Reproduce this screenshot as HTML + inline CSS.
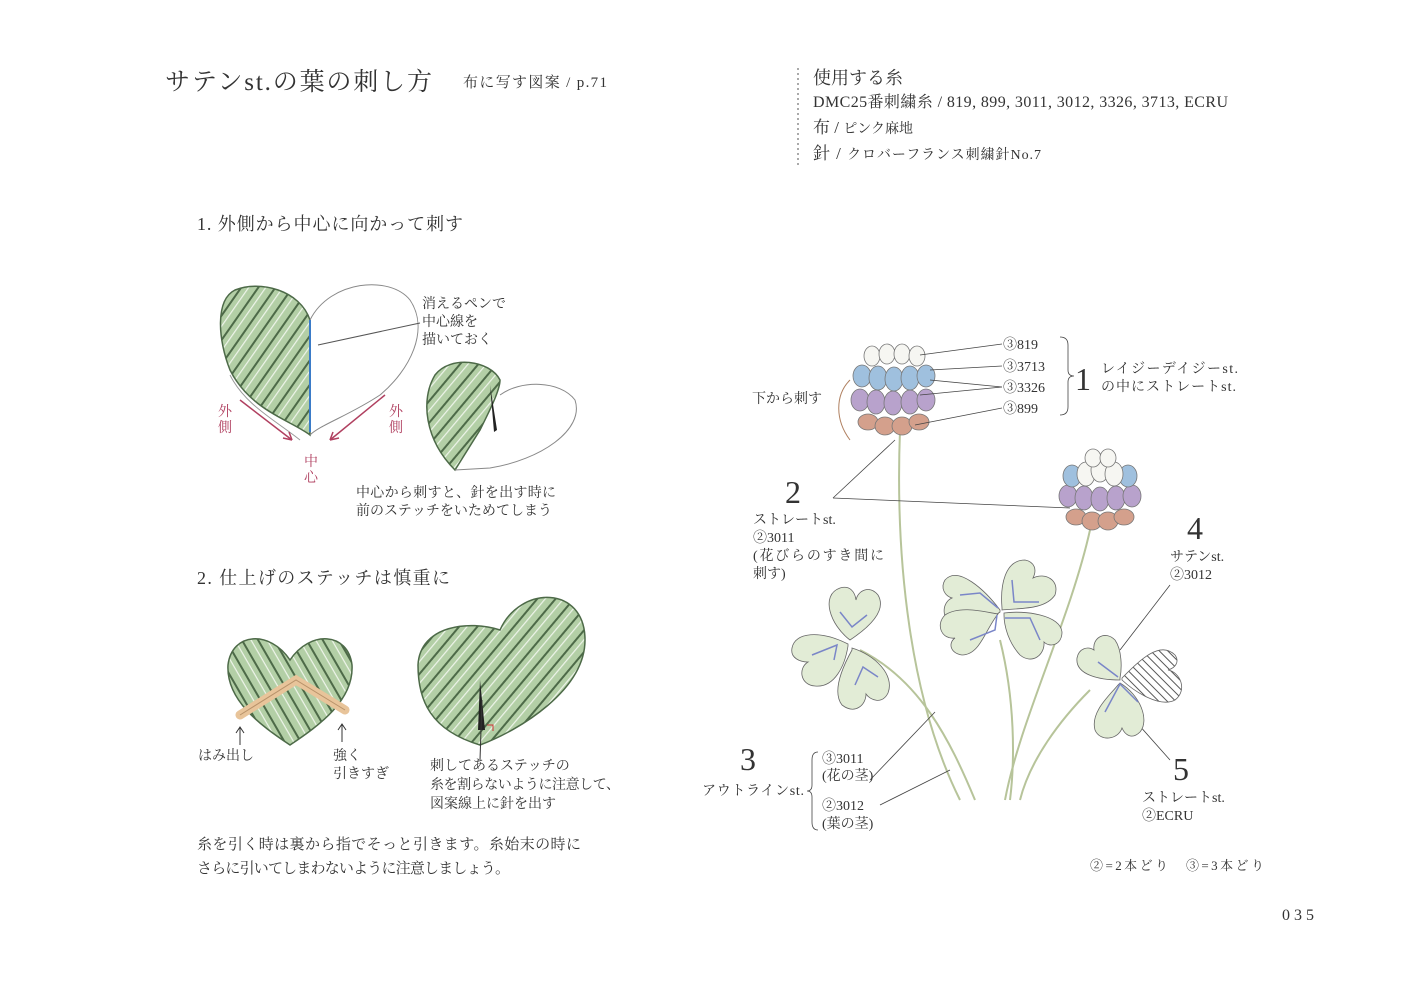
<!DOCTYPE html>
<html><head><meta charset="utf-8"><style>
html,body{margin:0;padding:0;background:#fff}
svg{display:block}
text{font-family:"Liberation Serif","Noto Serif CJK SC",serif;fill:#333}
</style></head><body>
<svg width="1406" height="991" viewBox="0 0 1406 991" xmlns="http://www.w3.org/2000/svg">
<defs>
<pattern id="st" width="14" height="14" patternUnits="userSpaceOnUse" patternTransform="rotate(-55)">
<rect width="14" height="14" fill="#b3cfa6"/><rect y="11.5" width="14" height="2" fill="#4d6a48"/><rect y="4" width="14" height="1.2" fill="#eef4ea"/>
</pattern>
<pattern id="st2" width="14" height="14" patternUnits="userSpaceOnUse" patternTransform="rotate(-50)">
<rect width="14" height="14" fill="#b3cfa6"/><rect y="11.5" width="14" height="2" fill="#4d6a48"/><rect y="4" width="14" height="1.2" fill="#eef4ea"/>
</pattern>
<pattern id="st3" width="14" height="14" patternUnits="userSpaceOnUse" patternTransform="rotate(60)">
<rect width="14" height="14" fill="#b3cfa6"/><rect y="11.5" width="14" height="2" fill="#4d6a48"/><rect y="4" width="14" height="1.2" fill="#eef4ea"/>
</pattern>
<pattern id="hatch" width="6" height="6" patternUnits="userSpaceOnUse" patternTransform="rotate(45)">
<rect width="6" height="6" fill="#fff"/><rect width="6" height="1" fill="#555"/>
</pattern>
</defs>

<!-- titles -->
<text x="165" y="90" font-size="25" textLength="267">サテンst.の葉の刺し方</text>
<text x="463" y="87" font-size="15" textLength="144">布に写す図案 / p.71</text>
<line x1="798" y1="68" x2="798" y2="165" stroke="#aaa" stroke-width="2" stroke-dasharray="2,3"/>
<text x="813" y="84" font-size="18">使用する糸</text>
<text x="813" y="107" font-size="16" textLength="415">DMC25番刺繍糸 / 819, 899, 3011, 3012, 3326, 3713, ECRU</text>
<text x="813" y="133" font-size="17">布 / <tspan font-size="14">ピンク麻地</tspan></text>
<text x="813" y="159" font-size="17" textLength="228">針 / <tspan font-size="14">クロバーフランス刺繍針No.7</tspan></text>

<text x="197" y="230" font-size="18" textLength="266">1. 外側から中心に向かって刺す</text>

<!-- heart 1 -->
<path d="M310 320 C300 290 260 280 235 290 C215 300 218 340 230 370 C250 410 290 420 310 435 Z" fill="url(#st)" stroke="#4d6a48" stroke-width="1.5"/>
<path d="M310 320 C330 280 390 275 410 300 C430 330 410 370 380 395 C350 415 320 425 310 435" fill="none" stroke="#888" stroke-width="1"/>
<line x1="310" y1="320" x2="310" y2="432" stroke="#3a7bc8" stroke-width="2"/>
<path d="M230 375 C245 405 275 420 300 440" fill="none" stroke="#999"/>
<line x1="318" y1="345" x2="420" y2="323" stroke="#555" stroke-width="1"/>
<text font-size="14" x="422" y="308">消えるペンで</text>
<text font-size="14" x="422" y="326">中心線を</text>
<text font-size="14" x="422" y="344">描いておく</text>
<line x1="240" y1="400" x2="292" y2="440" stroke="#b04060" stroke-width="1.5"/>
<path d="M292 440 l-9 -2 m9 2 l-3 -8" stroke="#b04060" stroke-width="1.5" fill="none"/>
<line x1="385" y1="395" x2="330" y2="440" stroke="#b04060" stroke-width="1.5"/>
<path d="M330 440 l3 -8 m-3 8 l9 -2" stroke="#b04060" stroke-width="1.5" fill="none"/>
<text font-size="14" x="218" y="416" style="fill:#b04060">外</text>
<text font-size="14" x="218" y="432" style="fill:#b04060">側</text>
<text font-size="14" x="389" y="416" style="fill:#b04060">外</text>
<text font-size="14" x="389" y="432" style="fill:#b04060">側</text>
<text font-size="14" x="304" y="466" style="fill:#b04060">中</text>
<text font-size="14" x="304" y="482" style="fill:#b04060">心</text>

<!-- heart 2 -->
<path d="M500 380 C490 360 450 355 435 375 C420 400 425 440 455 470 L480 430 C490 410 500 390 500 380 Z" fill="url(#st2)" stroke="#4d6a48" stroke-width="1.5"/>
<path d="M500 395 C520 380 560 380 575 400 C585 430 540 460 490 468 L455 470" fill="none" stroke="#888"/>
<path d="M490 385 L497 430 L494 432 Z" fill="#222"/>
<text font-size="14" x="356" y="497" textLength="200">中心から刺すと、針を出す時に</text>
<text font-size="14" x="356" y="515" textLength="196">前のステッチをいためてしまう</text>

<text x="197" y="584" font-size="18" textLength="253">2. 仕上げのステッチは慎重に</text>

<!-- heart 3 -->
<path d="M290 660 C270 630 232 632 228 665 C226 700 260 725 290 745 C320 725 354 700 352 665 C348 632 310 630 290 660 Z" fill="url(#st3)" stroke="#4d6a48" stroke-width="1.5"/>
<path d="M240 715 L296 680 L345 710" fill="none" stroke="#e8c49a" stroke-width="9" stroke-linecap="round"/>
<path d="M240 715 L296 680 L345 710" fill="none" stroke="#b8926a" stroke-width="1"/>
<path d="M240 745 l0 -18 m-4 6 l4 -6 4 6" stroke="#333" fill="none"/>
<path d="M342 742 l0 -18 m-4 6 l4 -6 4 6" stroke="#333" fill="none"/>
<text font-size="14" x="198" y="760">はみ出し</text>
<text font-size="14" x="333" y="760">強く</text>
<text font-size="14" x="333" y="778">引きすぎ</text>

<!-- heart 4 -->
<path d="M500 630 C520 585 585 585 585 640 C585 690 520 730 480 745 C430 730 418 700 418 665 C420 625 470 620 500 630 Z" fill="url(#st2)" stroke="#4d6a48" stroke-width="1.5"/>
<path d="M480 680 L485 730 L478 730 Z" fill="#222"/>
<path d="M487 725 l6 0 0 6" stroke="#c33" fill="none"/>
<line x1="482" y1="700" x2="480" y2="760" stroke="#333"/>
<text font-size="14" x="430" y="770">刺してあるステッチの</text>
<text font-size="14" x="430" y="789" textLength="190">糸を割らないように注意して、</text>
<text font-size="14" x="430" y="808">図案線上に針を出す</text>

<text font-size="15" x="197" y="849" textLength="384">糸を引く時は裏から指でそっと引きます。糸始末の時に</text>
<text font-size="15" x="197" y="873" textLength="313">さらに引いてしまわないように注意しましょう。</text>

<!-- stems -->
<g fill="none" stroke="#b7c49a" stroke-width="2">
<path d="M900 430 C895 560 910 700 960 800"/>
<path d="M1090 530 C1070 620 1020 720 1005 800"/>
<path d="M1000 640 C1015 700 1015 760 1010 800"/>
<path d="M860 650 C920 680 950 740 975 800"/>
<path d="M1090 690 C1060 720 1030 760 1020 800"/>
</g>

<!-- flower 1 -->
<g stroke="#777" stroke-width="0.8">
<g fill="#d4a08c"><ellipse cx="868" cy="422" rx="10" ry="8"/><ellipse cx="885" cy="426" rx="10" ry="9"/><ellipse cx="902" cy="426" rx="10" ry="9"/><ellipse cx="919" cy="422" rx="10" ry="8"/></g>
<g fill="#b8a2cc"><ellipse cx="860" cy="400" rx="9" ry="11"/><ellipse cx="876" cy="402" rx="9" ry="12"/><ellipse cx="893" cy="403" rx="9" ry="12"/><ellipse cx="910" cy="402" rx="9" ry="12"/><ellipse cx="926" cy="400" rx="9" ry="11"/></g>
<g fill="#9fc0de"><ellipse cx="862" cy="376" rx="9" ry="11"/><ellipse cx="878" cy="378" rx="9" ry="12"/><ellipse cx="894" cy="379" rx="9" ry="12"/><ellipse cx="910" cy="378" rx="9" ry="12"/><ellipse cx="926" cy="376" rx="9" ry="11"/></g>
<g fill="#f6f6f2"><ellipse cx="872" cy="356" rx="8" ry="10"/><ellipse cx="887" cy="354" rx="8" ry="10"/><ellipse cx="902" cy="354" rx="8" ry="10"/><ellipse cx="917" cy="356" rx="8" ry="10"/></g>
</g>
<path d="M850 380 C835 395 835 420 850 440" fill="none" stroke="#b08060"/>
<text font-size="14" x="752" y="403">下から刺す</text>
<!-- flower 2 -->
<g stroke="#777" stroke-width="0.8">
<g fill="#d4a08c"><ellipse cx="1076" cy="517" rx="10" ry="8"/><ellipse cx="1092" cy="521" rx="10" ry="9"/><ellipse cx="1108" cy="521" rx="10" ry="9"/><ellipse cx="1124" cy="517" rx="10" ry="8"/></g>
<g fill="#b8a2cc"><ellipse cx="1068" cy="496" rx="9" ry="11"/><ellipse cx="1084" cy="498" rx="9" ry="12"/><ellipse cx="1100" cy="499" rx="9" ry="12"/><ellipse cx="1116" cy="498" rx="9" ry="12"/><ellipse cx="1132" cy="496" rx="9" ry="11"/></g>
<g fill="#9fc0de"><ellipse cx="1072" cy="476" rx="9" ry="11"/><ellipse cx="1128" cy="476" rx="9" ry="11"/></g>
<g fill="#f6f6f2"><ellipse cx="1086" cy="474" rx="9" ry="12"/><ellipse cx="1100" cy="470" rx="9" ry="12"/><ellipse cx="1114" cy="474" rx="9" ry="12"/><ellipse cx="1093" cy="458" rx="8" ry="9"/><ellipse cx="1108" cy="458" rx="8" ry="9"/></g>
</g>

<!-- leaders -->
<g stroke="#444" stroke-width="0.8" fill="none">
<line x1="920" y1="355" x2="1002" y2="344"/>
<line x1="930" y1="370" x2="1002" y2="366"/>
<line x1="930" y1="380" x2="1002" y2="387"/>
<line x1="920" y1="395" x2="1002" y2="387"/>
<line x1="915" y1="425" x2="1002" y2="408"/>
<path d="M1060 337 q8 0 8 8 v25 q0 6 6 6 q-6 0 -6 6 v25 q0 8 -8 8"/>
<line x1="833" y1="498" x2="895" y2="440"/>
<line x1="833" y1="498" x2="1070" y2="508"/>
<line x1="1170" y1="585" x2="1120" y2="650"/>
<line x1="870" y1="780" x2="935" y2="712"/>
<line x1="880" y1="805" x2="950" y2="770"/>
<line x1="1170" y1="760" x2="1130" y2="715"/>
<path d="M818 752 q-6 0 -6 8 v25 q0 6 -5 6 q5 0 5 6 v25 q0 8 6 8"/>
</g>
<text font-size="14" x="1003" y="349">③819</text>
<text font-size="14" x="1003" y="371">③3713</text>
<text font-size="14" x="1003" y="392">③3326</text>
<text font-size="14" x="1003" y="413">③899</text>
<text font-size="32" x="1075" y="390">1</text>
<text font-size="14" x="1101" y="373" textLength="137">レイジーデイジーst.</text>
<text font-size="14" x="1101" y="391" textLength="135">の中にストレートst.</text>
<text font-size="32" x="785" y="503">2</text>
<text font-size="14" x="753" y="524">ストレートst.</text>
<text font-size="14" x="753" y="542">②3011</text>
<text font-size="14" x="753" y="560" textLength="131">(花びらのすき間に</text>
<text font-size="14" x="753" y="578">刺す)</text>
<text font-size="32" x="1187" y="539">4</text>
<text font-size="14" x="1170" y="561">サテンst.</text>
<text font-size="14" x="1170" y="579">②3012</text>
<text font-size="32" x="740" y="770">3</text>
<text font-size="14" x="702" y="795" textLength="102">アウトラインst.</text>
<text font-size="14" x="822" y="763">③3011</text>
<text font-size="14" x="822" y="780">(花の茎)</text>
<text font-size="14" x="822" y="810">②3012</text>
<text font-size="14" x="822" y="828">(葉の茎)</text>
<text font-size="32" x="1173" y="780">5</text>
<text font-size="14" x="1142" y="802">ストレートst.</text>
<text font-size="14" x="1142" y="820">②ECRU</text>
<text font-size="13" x="1090" y="870" textLength="174">②=2本どり　③=3本どり</text>
<text font-size="16" x="1282" y="920" textLength="32">035</text>

<!-- clover leaves -->
<g fill="#e2ecd6" stroke="#666" stroke-width="0.8">
<path d="M850 640 C830 625 820 595 840 588 C850 585 855 592 856 600 C858 590 870 585 878 595 C888 612 865 630 850 640 Z"/>
<path d="M848 644 C820 630 795 632 792 648 C790 658 800 662 808 662 C798 668 800 685 815 686 C835 688 845 665 848 646 Z"/>
<path d="M852 648 C875 655 895 675 888 693 C882 705 870 700 866 694 C866 705 855 715 842 705 C832 692 842 668 852 650 Z"/>
<path d="M1000 610 C985 590 958 565 945 580 C940 588 945 596 952 598 C942 602 940 620 955 625 C975 630 992 618 1000 612 Z"/>
<path d="M1002 608 C1000 585 1005 560 1025 560 C1035 562 1037 570 1033 578 C1045 572 1060 580 1055 595 C1045 610 1020 608 1002 610 Z"/>
<path d="M1004 613 C1025 610 1060 615 1062 632 C1062 645 1050 648 1044 642 C1045 655 1032 665 1020 655 C1008 642 1004 625 1004 615 Z"/>
<path d="M998 614 C985 630 980 655 962 655 C950 653 948 643 955 638 C942 640 935 625 945 615 C960 605 985 612 998 614 Z"/>
<path d="M1120 680 C1100 680 1075 675 1077 658 C1079 648 1088 646 1094 650 C1092 638 1105 630 1115 640 C1122 650 1122 668 1120 678 Z"/>
<path d="M1122 678 C1140 660 1160 640 1175 655 C1180 662 1175 668 1168 670 C1180 672 1188 690 1175 700 C1160 708 1135 692 1122 680 Z" fill="url(#hatch)"/>
<path d="M1120 683 C1140 695 1150 720 1140 732 C1132 740 1125 735 1122 728 C1118 740 1100 742 1095 730 C1090 712 1110 695 1118 685 Z"/>
</g>
<g stroke="#7a86c8" stroke-width="1.5" fill="none">
<path d="M840 612 l12 15 15 -12"/><path d="M812 655 l25 -10 -3 15"/><path d="M855 685 l8 -18 15 10"/>
<path d="M960 595 l20 -2 18 15"/><path d="M1012 580 l2 22 25 0"/><path d="M1040 640 l-10 -22 -25 0"/><path d="M970 640 l25 -10 2 -15"/>
<path d="M1098 662 l20 15"/><path d="M1105 712 l15 -28 18 18"/>
</g>
</svg>
</body></html>
